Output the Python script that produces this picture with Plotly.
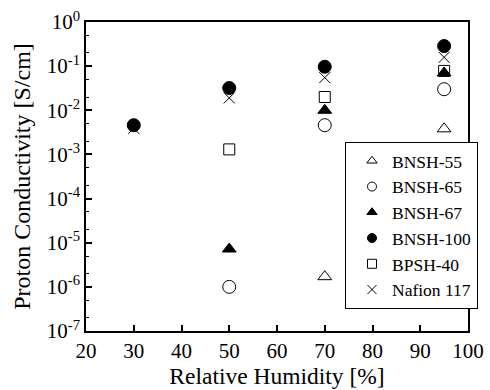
import plotly.graph_objects as go

bnsh55_x = [70, 95]
bnsh55_y = [1.7e-6, 3.8e-3]
bnsh65_x = [50, 70, 95]
bnsh65_y = [1.0e-6, 4.6e-3, 0.030]
bnsh67_x = [50, 70, 95]
bnsh67_y = [7.2e-6, 0.010, 0.070]
bnsh100_x = [30, 50, 70, 95]
bnsh100_y = [4.6e-3, 0.032, 0.097, 0.285]
bpsh40_x = [50, 70, 95]
bpsh40_y = [1.3e-3, 0.020, 0.078]
nafion_x = [30, 50, 70, 95]
nafion_y = [3.9e-3, 0.019, 0.055, 0.158]

x_ticks = [20, 30, 40, 50, 60, 70, 80, 90, 100]
y_exps = [-7, -6, -5, -4, -3, -2, -1, 0]

series = [
    ("BNSH-55", bnsh55_x, bnsh55_y, "triangle-up-open", 12),
    ("BNSH-65", bnsh65_x, bnsh65_y, "circle-open", 13),
    ("BNSH-67", bnsh67_x, bnsh67_y, "triangle-up", 12),
    ("BNSH-100", bnsh100_x, bnsh100_y, "circle", 13),
    ("BPSH-40", bpsh40_x, bpsh40_y, "square-open", 11),
    ("Nafion 117", nafion_x, nafion_y, "x-thin-open", 11),
]

serif = "Liberation Serif"
fig = go.Figure()
for name, xs, ys, sym, sz in series:
    fig.add_trace(go.Scatter(
        x=xs, y=ys, mode="markers", name=name, showlegend=False,
        marker=dict(symbol=sym, size=sz, color="black",
                    line=dict(color="black", width=1)),
    ))
for name, xs, ys, sym, sz in series:
    fig.add_trace(go.Scatter(
        x=[None], y=[None], mode="markers", name=name, showlegend=True,
        marker=dict(symbol=sym, size=9, color="black",
                    line=dict(color="black", width=1)),
    ))

fig.update_layout(
    width=490, height=390,
    margin=dict(l=86, r=14, t=22, b=59),
    paper_bgcolor="white", plot_bgcolor="white",
    font=dict(family=serif, size=21, color="black"),
    legend=dict(
        x=0.678, y=0.612, xanchor="left", yanchor="top",
        bgcolor="white", bordercolor="black", borderwidth=1,
        font=dict(family=serif, size=17.5, color="black"),
        tracegroupgap=0, indentation=6,
    ),
)
fig.update_xaxes(
    range=[20, 100], tickvals=x_ticks, ticktext=[str(v) for v in x_ticks],
    ticks="inside", ticklen=6, tickwidth=1.5, tickcolor="black",
    showline=True, linecolor="black", linewidth=1.5, mirror=True,
    showgrid=False, zeroline=False, automargin=False,
    title=dict(text="Relative Humidity [%]", font=dict(family=serif, size=23.5), standoff=4),
    tickfont=dict(family=serif, size=21),
)
fig.update_yaxes(
    type="log", range=[-7, 0],
    tickvals=[10.0 ** e for e in y_exps],
    ticktext=["10<sup>%d</sup>" % e for e in y_exps],
    ticks="inside", ticklen=6, tickwidth=1.5, tickcolor="black",
    minor=dict(ticks="inside", ticklen=3, tickwidth=1, tickcolor="black", showgrid=False),
    showline=True, linecolor="black", linewidth=1.5, mirror=True,
    showgrid=False, zeroline=False, automargin=False,
    title=dict(text="Proton Conductivity [S/cm]", font=dict(family=serif, size=24), standoff=9),
    tickfont=dict(family=serif, size=21),
)
fig.write_html("out.html")
